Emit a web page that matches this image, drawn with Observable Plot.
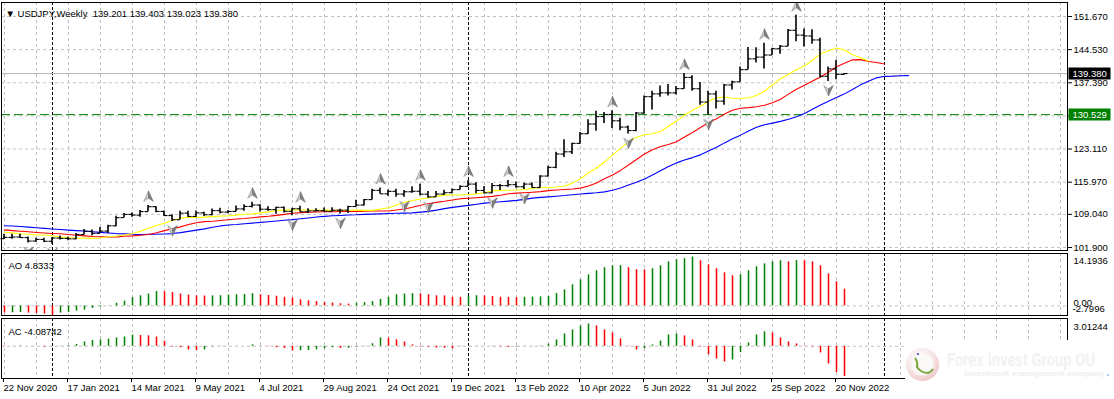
<!DOCTYPE html>
<html><head><meta charset="utf-8">
<script src="https://cdn.jsdelivr.net/npm/d3@7"></script>
<script src="https://cdn.jsdelivr.net/npm/@observablehq/plot@0.6"></script>
<style>
html,body{margin:0;padding:0;background:#fff;}
#chart{position:relative;width:1114px;height:399px;overflow:hidden;}
#chart svg{position:absolute;left:0;top:0;}
#wm{position:absolute;left:905px;top:340px;width:209px;height:59px;background:#fff;}
</style></head><body><div id="chart"></div>
<script>
// ---- data (weekly bars, index 0 = week of 22 Nov 2020) ----
const symbolName = "USDJPY,Weekly";
const opens  = [103.80,104.08,104.16,104.04,103.29,103.63,103.24,103.94,103.86,103.77,104.68,105.39,104.95,105.43,106.57,108.33,109.03,108.88,109.64,110.69,109.67,108.78,107.88,109.30,108.59,109.36,108.96,109.85,109.53,109.67,110.21,110.75,111.05,110.15,110.06,110.55,109.70,110.25,109.60,109.78,109.84,109.71,109.93,109.94,110.73,111.05,112.22,114.21,113.46,114.00,113.41,113.91,114.02,113.39,112.81,113.42,113.71,114.37,115.08,115.56,114.19,113.68,115.25,115.23,115.43,114.99,115.56,114.83,117.29,119.17,122.04,122.52,124.33,126.41,128.50,130.10,130.56,129.20,127.85,127.10,130.87,134.40,135.00,135.22,135.21,136.12,138.55,136.11,133.25,134.99,133.43,136.92,137.59,140.22,142.55,142.92,143.37,144.73,145.27,148.69,147.66,147.47,146.62,138.80,140.38,139.201];
const highs  = [104.76,104.75,104.75,104.18,103.91,103.90,104.08,104.40,104.09,104.94,105.77,105.66,106.22,106.69,108.64,109.23,109.36,109.85,110.97,110.70,109.78,108.95,109.70,109.70,109.79,109.47,110.20,110.33,109.83,110.82,111.11,111.66,111.13,110.70,110.59,110.60,110.37,110.80,110.26,110.25,110.42,110.45,110.15,110.80,112.08,112.25,114.47,114.70,114.31,114.45,114.18,114.97,115.52,113.94,113.95,114.25,114.49,115.18,116.35,115.84,115.06,115.68,115.48,116.34,116.01,115.75,115.80,117.35,119.41,122.44,125.09,124.34,126.68,129.41,131.25,131.00,131.34,129.77,128.08,130.98,134.55,135.59,136.71,137.00,136.57,139.39,138.88,137.46,135.58,135.58,137.00,137.70,140.80,144.99,144.96,145.90,144.85,145.43,148.86,151.94,149.00,148.83,147.00,140.80,142.25,139.403];
const lows   = [103.65,103.66,103.97,102.88,103.05,102.96,102.59,103.52,103.33,103.55,104.58,104.41,104.93,104.92,106.35,108.30,108.40,108.41,109.62,109.37,108.60,107.48,107.80,108.34,108.34,108.56,108.73,109.19,109.18,109.61,109.71,110.42,109.53,109.73,109.07,109.36,108.72,109.55,109.25,109.60,109.59,109.59,109.11,109.20,110.73,110.82,112.12,113.41,112.96,112.73,112.72,113.59,113.07,112.53,112.75,113.13,113.50,114.28,115.00,113.48,113.50,113.47,114.16,114.86,114.65,114.40,114.66,114.66,117.16,118.85,121.29,121.92,124.14,126.27,126.94,128.62,127.52,127.03,126.36,126.86,130.60,131.50,134.27,134.53,134.74,136.00,135.58,132.53,130.41,131.73,132.56,135.81,137.54,140.19,141.66,140.35,143.28,143.52,145.20,146.21,145.09,145.68,138.47,137.67,138.05,139.023];
const closes = [104.08,104.16,104.04,103.29,103.63,103.24,103.94,103.86,103.77,104.68,105.39,104.95,105.43,106.57,108.33,109.03,108.88,109.64,110.69,109.67,108.78,107.88,109.30,108.59,109.36,108.96,109.85,109.53,109.67,110.21,110.75,111.05,110.15,110.06,110.55,109.70,110.25,109.60,109.78,109.84,109.71,109.93,109.94,110.73,111.05,112.22,114.21,113.46,114.00,113.41,113.91,114.02,113.39,112.81,113.42,113.71,114.37,115.08,115.56,114.19,113.68,115.25,115.23,115.43,114.99,115.56,114.83,117.29,119.17,122.04,122.52,124.33,126.41,128.50,130.10,130.56,129.20,127.85,127.10,130.87,134.40,135.00,135.22,135.21,136.12,138.55,136.11,133.25,134.99,133.43,136.92,137.59,140.22,142.55,142.92,143.37,144.73,145.27,148.69,147.66,147.47,146.62,138.80,140.38,139.20,139.380];
// Alligator lines as drawn (already shifted forward: index = drawing position)
const jaw   = [106.6,106.52,106.43,106.29,106.15,106.02,105.9,105.77,105.65,105.54,105.45,105.3,105.16,105.03,104.9,104.83,104.74,104.7,104.74,104.76,104.82,104.9,105.1,105.38,105.65,105.92,106.26,106.55,106.75,106.86,107.01,107.16,107.31,107.44,107.6,107.77,107.9,108.08,108.26,108.47,108.61,108.73,108.81,108.9,108.95,109.04,109.09,109.15,109.22,109.28,109.31,109.36,109.52,109.68,109.96,110.28,110.54,110.77,110.98,111.23,111.47,111.61,111.75,111.9,112.06,112.27,112.53,112.69,112.81,112.95,113.09,113.28,113.44,113.57,113.7,113.88,114.22,114.7,115.35,115.95,116.68,117.54,118.43,119.35,120.13,120.77,121.27,121.86,122.68,123.52,124.44,125.31,126.11,127.0,127.79,128.34,128.7,129.08,129.52,130.08,130.78,131.69,132.58,133.39,134.21,135.0,135.93,136.94,137.72,138.45,138.78,138.82,138.92,138.94];
const teeth = [105.7,105.54,105.4,105.28,105.14,105.02,104.92,104.85,104.69,104.54,104.4,104.27,104.23,104.17,104.18,104.31,104.4,104.55,104.71,105.06,105.53,105.95,106.35,106.84,107.24,107.48,107.57,107.72,107.88,108.03,108.15,108.32,108.5,108.63,108.83,109.03,109.28,109.41,109.51,109.55,109.6,109.59,109.66,109.66,109.69,109.73,109.77,109.75,109.78,109.98,110.18,110.57,111.01,111.34,111.62,111.85,112.15,112.42,112.52,112.63,112.76,112.92,113.15,113.47,113.62,113.7,113.81,113.94,114.15,114.3,114.4,114.5,114.69,115.14,115.8,116.72,117.52,118.51,119.68,120.86,122.06,122.98,123.66,124.1,124.7,125.69,126.67,127.77,128.77,129.63,130.64,131.46,131.9,132.04,132.24,132.56,133.09,133.85,134.94,135.99,136.88,137.78,138.62,139.67,140.85,141.62,142.33,142.38,141.99,141.76,141.44];
const lips  = [105.2,105.05,104.87,104.74,104.63,104.58,104.37,104.19,104.04,103.9,103.91,103.87,103.95,104.2,104.37,104.61,104.85,105.38,106.06,106.62,107.12,107.76,108.22,108.41,108.37,108.45,108.56,108.66,108.73,108.88,109.06,109.15,109.36,109.57,109.86,109.95,110.0,109.97,109.97,109.89,109.95,109.9,109.91,109.93,109.95,109.89,109.9,110.2,110.47,111.04,111.64,112.04,112.35,112.57,112.91,113.19,113.2,113.24,113.33,113.46,113.71,114.1,114.21,114.22,114.29,114.4,114.64,114.78,114.84,114.92,115.14,115.77,116.71,118.0,119.03,120.31,121.81,123.27,124.7,125.65,126.2,126.4,126.9,128.04,129.14,130.41,131.48,132.32,133.4,134.17,134.34,134.07,133.99,134.15,134.67,135.57,136.97,138.24,139.22,140.19,141.05,142.25,143.62,144.31,144.9,144.47,143.42,142.77,142.06];
const fractalUp   = [18,31,37,47,52,58,63,76,85,95,99];
const fractalDown = [3,6,21,36,42,50,53,61,65,78,88,103];
const aoValues = [-2.1,-2.0,-1.95,-2.1,-2.2,-2.4,-2.7996,-2.1,-1.9,-1.56,-1.25,-0.73,-0.31,0.05,0.73,1.35,2.4,2.92,3.44,4.17,4.1,3.85,3.44,3.13,2.92,2.85,2.9,2.95,3.13,3.23,3.33,3.54,3.23,3.02,2.81,2.5,2.29,1.77,1.46,1.25,0.94,0.83,0.63,0.52,0.73,0.94,1.25,1.88,2.5,3.23,3.44,3.54,3.5,3.23,2.92,2.9,2.5,2.45,2.92,2.95,2.9,2.7,2.5,2.45,2.4,2.5,2.55,2.6,2.75,3.6,4.66,6.1,7.57,9.0,10.2,11.07,11.65,11.7,11.07,10.5,10.45,10.78,11.65,12.8,13.4,13.7,14.1936,13.1,11.94,10.78,9.6,8.74,9.03,10.2,11.36,12.2,12.8,13.1,12.8,13.15,13.1,12.8,11.65,9.3,6.99,4.8333];
const acValues = [-0.05,0.02,0.04,0.01,-0.02,-0.1,-0.06,0.03,0.1,0.24,0.58,0.78,0.87,0.97,1.12,1.26,1.5,1.46,1.42,1.26,0.68,-0.1,-0.19,-0.49,-0.58,-0.49,-0.05,-0.03,-0.02,-0.01,0.01,0.19,-0.03,-0.05,-0.19,-0.29,-0.63,-0.6,-0.58,-0.49,-0.34,-0.19,-0.29,-0.27,-0.1,-0.05,0.34,1.14,1.1,0.87,0.58,0.19,-0.1,-0.12,-0.24,-0.26,-0.34,-0.05,0.0,0.02,-0.02,-0.04,-0.06,-0.15,-0.1,-0.02,0.02,0.05,0.3,0.86,1.67,2.22,2.76,3.01244,2.76,2.22,1.81,1.0,0.05,-0.5,-0.32,0.18,0.72,1.54,1.67,1.4,0.86,-0.09,-1.13,-1.72,-2.13,-1.86,-0.86,0.45,1.54,1.95,1.81,1.13,0.59,0.32,0.05,-0.09,-0.9,-2.4,-3.57,-4.08742];
const dateLabels = ["22 Nov 2020","17 Jan 2021","14 Mar 2021","9 May 2021","4 Jul 2021","29 Aug 2021","24 Oct 2021","19 Dec 2021","13 Feb 2022","10 Apr 2022","5 Jun 2022","31 Jul 2022","25 Sep 2022","20 Nov 2022"];
const priceTicks = [101.9,109.04,115.97,123.11,130.25,137.39,144.53,151.67];
const levelLine = 130.529;
const yearStarts = [6,58,110];      // 3 Jan 2021, 2 Jan 2022, 1 Jan 2023
const aoTicks = [14.1936, 0, -2.7996];
const acTicks = [3.01244, -4.08742];

// ---- layout ----
const W = 1114, H = 399;
const FRAME_R = 1067;
const xScale = {domain: [-0.375, 132.875], range: [1, FRAME_R], axis: null};
const labelIdx = dateLabels.map((_, k) => k * 8);
const gridIdx = d3.range(0, 133, 4);
const font = "'Liberation Sans', Arial, sans-serif";
const st = {background: "transparent", fontFamily: font, fontSize: "9.5px", color: "#000", maxWidth: "none"};
const GRID = "#c0c0c0";

const bars = opens.map((o, i) => ({i, o, h: highs[i], l: lows[i], c: closes[i]}));
const toPts = arr => arr.map((v, p) => ({p, v}));
const colorize = arr => arr.map((v, i) => ({i, v, col: (i > 0 && v > arr[i - 1]) ? "#008000" : "#ff0000"}));

const upHalfL = {draw(c){ c.moveTo(0,-5.5); c.lineTo(0,1.8); c.lineTo(-4.8,5); c.closePath(); }};
const upHalfR = {draw(c){ c.moveTo(0,-5.5); c.lineTo(4.8,5); c.lineTo(0,1.8); c.closePath(); }};
const dnHalfL = {draw(c){ c.moveTo(0,5.5); c.lineTo(0,-1.8); c.lineTo(-4.8,-5); c.closePath(); }};
const dnHalfR = {draw(c){ c.moveTo(0,5.5); c.lineTo(4.8,-5); c.lineTo(0,-1.8); c.closePath(); }};
const boxSym = {draw(c){ c.rect(-21,-6,42,12); }};

const chart = document.getElementById("chart");

// ---- main price pane ----
const header = "\u25BC " + symbolName + "  " + [opens, highs, lows, closes].map(a => a[a.length - 1].toFixed(3)).join(" ");
const main = Plot.plot({
  width: W, height: H,
  marginTop: 2, marginBottom: H - 250, marginLeft: 1, marginRight: W - FRAME_R,
  x: xScale,
  y: {domain: [101.9, 151.67], range: [247, 16], axis: "right", ticks: priceTicks, tickFormat: d => d.toFixed(3), tickSize: 4, tickPadding: 2, label: null},
  style: st,
  marks: [
    Plot.gridX(gridIdx, {stroke: GRID, strokeOpacity: 1, strokeDasharray: "3,3"}),
    Plot.gridY(priceTicks, {stroke: GRID, strokeOpacity: 1, strokeDasharray: "3,3"}),
    Plot.ruleX(yearStarts, {stroke: "#000", strokeDasharray: "3,2"}),
    Plot.ruleY([closes[closes.length - 1]], {stroke: "#b4b4b4"}),
    Plot.ruleY([levelLine], {stroke: "#008000", strokeDasharray: "9,4"}),
    Plot.line(toPts(jaw), {x: "p", y: "v", stroke: "#0000ff", strokeWidth: 1.1}),
    Plot.line(toPts(teeth), {x: "p", y: "v", stroke: "#ff0000", strokeWidth: 1.1}),
    Plot.line(toPts(lips), {x: "p", y: "v", stroke: "#ffff00", strokeWidth: 1.1}),
    Plot.ruleX(bars, {x: "i", y1: "l", y2: "h", stroke: "#000", strokeWidth: 1.6, dx: -0.5}),
    Plot.ruleY(bars, {y: "o", x1: d => d.i - 0.45, x2: d => d.i, stroke: "#000", strokeWidth: 1.1}),
    Plot.ruleY(bars, {y: "c", x1: d => d.i, x2: d => d.i + 0.45, stroke: "#000", strokeWidth: 1.1}),
    Plot.dot(fractalUp, {x: d => d, y: d => highs[d], dy: -9, symbol: upHalfL, fill: "#cccccc", stroke: "#8a8a8a", strokeWidth: 0.6, clip: true}),
    Plot.dot(fractalUp, {x: d => d, y: d => highs[d], dy: -9, symbol: upHalfR, fill: "#808080", stroke: "#6a6a6a", strokeWidth: 0.6, clip: true}),
    Plot.dot(fractalDown, {x: d => d, y: d => lows[d], dy: 9, symbol: dnHalfL, fill: "#cccccc", stroke: "#8a8a8a", strokeWidth: 0.6, clip: true}),
    Plot.dot(fractalDown, {x: d => d, y: d => lows[d], dy: 9, symbol: dnHalfR, fill: "#808080", stroke: "#6a6a6a", strokeWidth: 0.6, clip: true}),
    Plot.frame({stroke: "#000"}),
    Plot.dot([closes[closes.length - 1]], {y: d => d, frameAnchor: "right", dx: 22, symbol: boxSym, fill: "#000"}),
    Plot.text([closes[closes.length - 1]], {y: d => d, frameAnchor: "right", dx: 5, textAnchor: "start", text: d => d.toFixed(3), fill: "#fff"}),
    Plot.dot([levelLine], {y: d => d, frameAnchor: "right", dx: 22, symbol: boxSym, fill: "#008000"}),
    Plot.text([levelLine], {y: d => d, frameAnchor: "right", dx: 5, textAnchor: "start", text: d => d.toFixed(3), fill: "#fff"}),
    Plot.text([header], {frameAnchor: "top-left", dx: 4, dy: 8, textAnchor: "start", fill: "#000"})
  ]
});
chart.appendChild(main);

// ---- AO pane ----
const aoData = colorize(aoValues);
const ao = Plot.plot({
  width: W, height: H,
  marginTop: 253, marginBottom: H - 315, marginLeft: 1, marginRight: W - FRAME_R,
  x: xScale,
  y: {domain: [-2.7996, 14.1936], range: [315, 256.5], axis: null},
  color: {type: "identity"},
  style: st,
  marks: [
    Plot.gridX(gridIdx, {stroke: GRID, strokeOpacity: 1, strokeDasharray: "3,3"}),
    Plot.ruleX(yearStarts, {stroke: "#000", strokeDasharray: "3,2"}),
    Plot.ruleY([0], {stroke: GRID, strokeDasharray: "3,3"}),
    Plot.ruleX(aoData, {x: "i", y1: 0, y2: "v", stroke: "col", strokeWidth: 1.5}),
    Plot.frame({stroke: "#000"}),
    Plot.text(["AO " + aoValues[aoValues.length - 1]], {frameAnchor: "top-left", dx: 7, dy: 9, textAnchor: "start"}),
    Plot.text([aoTicks[0]], {y: d => d, frameAnchor: "right", dx: 6, dy: 4, textAnchor: "start", text: d => d.toFixed(4)}),
    Plot.text([aoTicks[1]], {y: d => d, frameAnchor: "right", dx: 6, dy: -2.5, textAnchor: "start", text: d => d.toFixed(2)}),
    Plot.text([aoTicks[2]], {y: d => d, frameAnchor: "right", dx: 5, dy: -7, textAnchor: "start", text: d => d.toFixed(4)})
  ]
});
chart.appendChild(ao);

// ---- AC pane (with time axis) ----
const acData = colorize(acValues);
const ac = Plot.plot({
  width: W, height: H,
  marginTop: 318, marginBottom: H - 378, marginLeft: 1, marginRight: W - FRAME_R,
  x: xScale,
  y: {domain: [-4.08742, 3.01244], range: [376, 323.5], axis: null},
  color: {type: "identity"},
  style: st,
  marks: [
    Plot.gridX(gridIdx, {stroke: GRID, strokeOpacity: 1, strokeDasharray: "3,3"}),
    Plot.ruleX(yearStarts, {stroke: "#000", strokeDasharray: "3,2"}),
    Plot.ruleY([0], {stroke: GRID, strokeDasharray: "3,3"}),
    Plot.ruleX(acData, {x: "i", y1: 0, y2: "v", stroke: "col", strokeWidth: 1.5}),
    Plot.frame({stroke: "#000"}),
    Plot.axisX(labelIdx, {anchor: "bottom", tickSize: 4, tickPadding: 2, tickFormat: i => dateLabels[i / 8], textAnchor: "start", dx: -1}),
    Plot.text(["AC " + acValues[acValues.length - 1]], {frameAnchor: "top-left", dx: 7, dy: 10, textAnchor: "start"}),
    Plot.text([acTicks[0]], {y: d => d, frameAnchor: "right", dx: 6, dy: 2.5, textAnchor: "start", text: d => d.toFixed(5)})
  ]
});
chart.appendChild(ac);

// ---- watermark overlay ----
const wm = document.createElement("div");
wm.id = "wm";
wm.innerHTML = `<svg width="209" height="59" style="position:absolute;left:0;top:0">
 <defs><radialGradient id="rg" cx="0.4" cy="0.35" r="0.7"><stop offset="0" stop-color="#ffffff"/><stop offset="0.6" stop-color="#f6e6e6"/><stop offset="1" stop-color="#eec4c4"/></radialGradient></defs>
 <circle cx="17.5" cy="24.5" r="16.5" fill="url(#rg)"/>
 <circle cx="17.5" cy="24.5" r="11" fill="#fbf8f8"/>
 <path d="M10 18 q3 4 2 9 q4 6 11 6 q3 -1 5 -4" fill="none" stroke="#7aa83a" stroke-width="2"/>
 <circle cx="13" cy="14" r="1" fill="#3030c0"/>
 <text x="42" y="26" textLength="148" lengthAdjust="spacingAndGlyphs" font-family="Roboto, 'Liberation Sans', sans-serif" font-weight="bold" font-size="18" fill="#f2f2f2">Forex Invest Group OU</text>
 <text x="59" y="36" textLength="140" lengthAdjust="spacingAndGlyphs" font-family="Roboto, 'Liberation Sans', sans-serif" font-weight="bold" font-size="7.5" fill="#eeeeee">Investment management company</text>
 <circle cx="203" cy="35" r="0.8" fill="#4a90d0"/>
</svg>`;
chart.appendChild(wm);
</script></body></html>
